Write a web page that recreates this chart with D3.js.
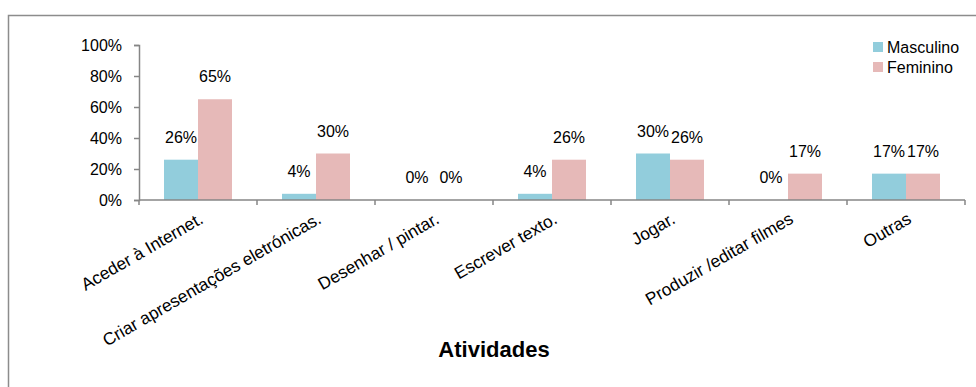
<!DOCTYPE html>
<html>
<head>
<meta charset="utf-8">
<script src="https://cdn.jsdelivr.net/npm/d3@7/dist/d3.min.js"></script>
<style>
  html, body { margin: 0; padding: 0; background: #fff; }
  svg { display: block; }
  text { font-family: "Liberation Sans", Arial, sans-serif; fill: #000; }
</style>
</head>
<body>
<svg id="chart" width="976" height="387"></svg>
<script>
// Activities by gender (share of respondents)
const categories = [
  "Aceder à Internet.",
  "Criar apresentações eletrónicas.",
  "Desenhar / pintar.",
  "Escrever texto.",
  "Jogar.",
  "Produzir /editar filmes",
  "Outras"
];
const seriesNames = ["Masculino", "Feminino"];
const masculino = [26, 4, 0, 4, 30, 0, 17];
const feminino = [65, 30, 0, 26, 26, 17, 17];
const yTicks = [0, 20, 40, 60, 80, 100];
const axisTitle = "Atividades";

const colors = { Masculino: "#92CDDC", Feminino: "#E6B9B8" };
const axisColor = "#868686";

const svg = d3.select("#chart");

// chart frame
svg.append("rect")
  .attr("x", 8.5).attr("y", 15.5)
  .attr("width", 1000).attr("height", 400)
  .attr("fill", "none")
  .attr("stroke", "#8c8c8c")
  .attr("stroke-width", 1.5);

const plot = { left: 139, right: 965, top: 45, bottom: 200 };

const x = d3.scaleBand()
  .domain(categories)
  .range([plot.left, plot.right]);

// two bars of equal width, centred in each category with a wide gap
const xInner = d3.scaleBand()
  .domain(seriesNames)
  .range([0, x.bandwidth()])
  .paddingOuter(50 / 68)
  .paddingInner(0);

const y = d3.scaleLinear()
  .domain([0, 100])
  .range([plot.bottom, plot.top]);

const data = categories.map((c, i) => ({
  category: c,
  values: [
    { series: "Masculino", value: masculino[i] },
    { series: "Feminino", value: feminino[i] }
  ]
}));

// bars
const groups = svg.append("g").selectAll("g")
  .data(data)
  .join("g")
  .attr("transform", d => `translate(${x(d.category)},0)`);

groups.selectAll("rect")
  .data(d => d.values)
  .join("rect")
  .attr("x", d => xInner(d.series))
  .attr("y", d => y(d.value))
  .attr("width", xInner.bandwidth())
  .attr("height", d => y(0) - y(d.value))
  .attr("fill", d => colors[d.series]);

// value labels
groups.selectAll("text.val")
  .data(d => d.values)
  .join("text")
  .attr("class", "val")
  .attr("x", d => xInner(d.series) + xInner.bandwidth() / 2)
  .attr("y", d => y(d.value) - 17)
  .attr("text-anchor", "middle")
  .style("font-size", "16px")
  .text(d => d.value + "%");

// y axis
const yAxis = d3.axisLeft(y)
  .tickValues(yTicks)
  .tickSize(5)
  .tickPadding(12)
  .tickFormat(d => d + "%");

const gy = svg.append("g")
  .attr("transform", `translate(${plot.left},0)`)
  .call(yAxis);
gy.select(".domain").attr("stroke", axisColor).attr("stroke-width", 1.5);
gy.selectAll(".tick line").attr("stroke", axisColor).attr("stroke-width", 1.5);
gy.selectAll(".tick text")
  .style("font-size", "16px")
  .style("font-family", "'Liberation Sans', Arial, sans-serif")
  .attr("fill", "#000");

// x axis with ticks at category boundaries
const gx = svg.append("g")
  .attr("transform", `translate(0,${plot.bottom})`);
gx.append("line")
  .attr("x1", plot.left).attr("x2", plot.right)
  .attr("stroke", axisColor).attr("stroke-width", 1.5);
const boundaries = categories.map(c => x(c)).concat([x(categories[categories.length - 1]) + x.bandwidth()]);
gx.selectAll("line.tk")
  .data(boundaries)
  .join("line")
  .attr("class", "tk")
  .attr("x1", d => d).attr("x2", d => d)
  .attr("y1", 0).attr("y2", 5)
  .attr("stroke", axisColor).attr("stroke-width", 1.5);

// rotated category labels
gx.selectAll("text.cat")
  .data(categories)
  .join("text")
  .attr("class", "cat")
  .attr("transform", d => `translate(${x(d) + x.bandwidth() / 2},11) rotate(-30)`)
  .attr("dy", "0.75em")
  .attr("text-anchor", "end")
  .style("font-size", "17.3px")
  .text(d => d);

// axis title
svg.append("text")
  .attr("x", 494)
  .attr("y", 357)
  .attr("text-anchor", "middle")
  .style("font-size", "22px")
  .style("font-weight", "bold")
  .text(axisTitle);

// legend
const legend = svg.append("g").attr("transform", "translate(873,42)");
const li = legend.selectAll("g")
  .data(seriesNames)
  .join("g")
  .attr("transform", (d, i) => `translate(0,${i * 20})`);
li.append("rect")
  .attr("width", 10).attr("height", 10)
  .attr("fill", d => colors[d]);
li.append("text")
  .attr("x", 14).attr("y", 11)
  .style("font-size", "16px")
  .text(d => d);
</script>
</body>
</html>
